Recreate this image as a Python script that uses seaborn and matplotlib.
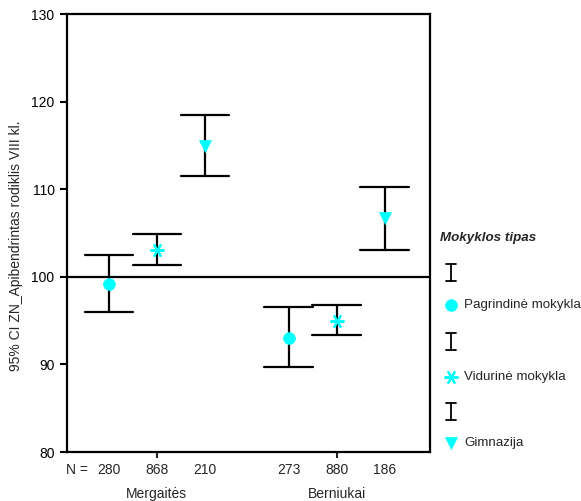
import numpy as np
import pandas as pd
import matplotlib
matplotlib.use("Agg")
import matplotlib.pyplot as plt
from matplotlib.lines import Line2D
import seaborn as sns

# ---- data ----
groups = ["Mergaitės", "Berniukai"]
school_types = ["Pagrindinė mokykla", "Vidurinė mokykla", "Gimnazija"]
n_labels = [["280", "868", "210"], ["273", "880", "186"]]
means = [[99.2, 103.1, 114.9], [93.0, 95.0, 106.7]]
ci_low = [[96.0, 101.4, 111.5], [89.7, 93.4, 103.1]]
ci_high = [[102.5, 104.85, 118.5], [96.5, 96.8, 110.2]]

rows = []
for gi, g in enumerate(groups):
    for si, s in enumerate(school_types):
        for v in (ci_low[gi][si], means[gi][si], ci_high[gi][si]):
            rows.append({"Lytis": g, "Mokyklos tipas": s, "value": v})
df = pd.DataFrame(rows)

sns.set_theme(style="white")
plt.rcParams["font.family"] = ["Liberation Sans", "DejaVu Sans"]

fig = plt.figure(figsize=(5.81, 5.01), dpi=100)
ax = fig.add_axes([67 / 581, 1 - 452 / 501, (430 - 67) / 581, (452 - 14) / 501])

cyan = "#00FFFF"
star = (6, 2, 90)
markers = ["o", star, "v"]
sns.pointplot(data=df, x="Lytis", y="value", hue="Mokyklos tipas",
              order=groups, hue_order=school_types,
              estimator="median", errorbar=("pi", 100),
              dodge=0.534, capsize=0.268, markers=markers,
              linestyles="none", palette=[cyan, cyan, cyan],
              err_kws={"color": "black", "linewidth": 1.6},
              markersize=8, ax=ax, legend=False)

# style: errorbars black beneath markers, markers cyan on top
for ln in ax.lines:
    if ln.get_marker() in ("None", None, "", " ") or len(ln.get_xdata()) > 3:
        ln.set_color("black")
        ln.set_zorder(2)
    else:
        ln.set_zorder(3)
        ln.set_markeredgecolor(cyan)
        ln.set_markerfacecolor(cyan)
        ln.set_markeredgewidth(1.5 if ln.get_marker() == star else 0.5)
        if ln.get_marker() == star:
            ln.set_markersize(10)
        else:
            ln.set_markersize(8.5)

ax.axhline(100, color="black", linewidth=1.6, zorder=1)

ax.set_xlim(-0.5, 1.52)
ax.set_ylim(80, 130)
ax.set_yticks([80, 90, 100, 110, 120, 130])
ax.set_xticks([0, 1])
ax.set_xticklabels([])
ax.set_xlabel("")
ax.set_ylabel("95% CI ZN_Apibendrintas rodiklis VIII kl.", fontsize=10)
ax.yaxis.set_label_coords(-0.12, 0.47)
ax.tick_params(axis="y", which="major", direction="out", length=5, width=1.5,
               labelsize=10, left=True, pad=4, colors="black")
ax.tick_params(axis="x", which="major", direction="out", length=4, width=1.5,
               bottom=True)
for sp in ax.spines.values():
    sp.set_visible(True)
    sp.set_color("black")
    sp.set_linewidth(1.6)

# N row and group labels
trans = ax.get_xaxis_transform()
offsets = [-0.267, 0.0, 0.267]
fig.text(66 / 581, 1 - 470 / 501, "N =", fontsize=10, ha="left", va="center")
for gi, g in enumerate(groups):
    for si in range(3):
        ax.text(gi + offsets[si], -0.041, n_labels[gi][si], transform=trans,
                fontsize=10, ha="center", va="center")
    ax.text(gi, -0.095, g, transform=trans, fontsize=10, ha="center", va="center")

# legend (manual)
fig.text(440 / 581, 1 - 238 / 501, "Mokyklos tipas", fontsize=9.6,
         fontweight="bold", fontstyle="italic", ha="left", va="center")
err_y = [272, 341, 411]
mark_y = [305, 377, 443]
lx = 451 / 581
for i, s in enumerate(school_types):
    yc = 1 - err_y[i] / 501
    h = 8.5 / 501
    w = 5 / 581
    fig.add_artist(Line2D([lx, lx], [yc - h, yc + h], color="black", lw=1.3))
    fig.add_artist(Line2D([lx - w, lx + w], [yc + h, yc + h], color="black", lw=1.3))
    fig.add_artist(Line2D([lx - w, lx + w], [yc - h, yc - h], color="black", lw=1.3))
    ym = 1 - mark_y[i] / 501
    ms = {0: 8.5, 1: 10, 2: 8.5}[i]
    fig.add_artist(Line2D([lx], [ym], marker=markers[i], color=cyan,
                          markeredgecolor=cyan, markersize=ms,
                          markeredgewidth=1.5 if i == 1 else 0.5, linestyle="none"))
    fig.text(464 / 581, ym, s, fontsize=9.6, ha="left", va="center")

fig.savefig("out.png", dpi=100)
